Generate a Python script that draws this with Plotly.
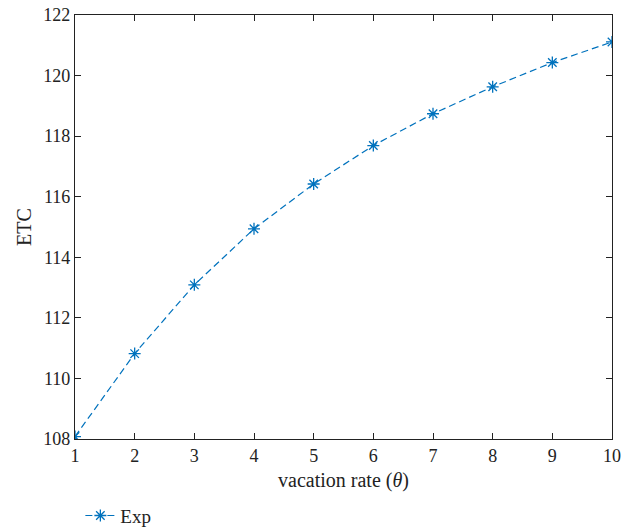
import plotly.graph_objects as go

# vacation rate (theta) and the expected total cost at each rate
theta = [1, 2, 3, 4, 5, 6, 7, 8, 9, 10]
etc = [108.08, 110.82, 113.09, 114.94, 116.42, 117.69, 118.74, 119.63, 120.43, 121.11]

x_ticks = [1, 2, 3, 4, 5, 6, 7, 8, 9, 10]
y_ticks = [108, 110, 112, 114, 116, 118, 120, 122]

blue = "#0072BD"
font_family = "Liberation Serif, DejaVu Serif, serif"
txt = "#222"

fig = go.Figure()
fig.add_trace(go.Scatter(
    x=theta, y=etc, name="Exp", mode="lines+markers",
    line=dict(color=blue, width=1.2, dash="7px,4px"),
    marker=dict(symbol="asterisk-open", size=10, color=blue,
                line=dict(color=blue, width=1.3)),
))

axis_common = dict(
    showline=True, linecolor=txt, linewidth=1.2, mirror="ticks",
    ticks="inside", ticklen=6, tickcolor=txt, tickwidth=1.2,
    showgrid=False, zeroline=False,
    tickfont=dict(family=font_family, size=18, color=txt),
)

fig.update_xaxes(
    range=[1, 10], tickvals=x_ticks,
    title=dict(text="vacation rate (<i>θ</i>)", standoff=8,
               font=dict(family=font_family, size=20, color=txt)),
    **axis_common,
)
fig.update_yaxes(
    range=[108, 122], tickvals=y_ticks,
    title=dict(text="ETC", standoff=6,
               font=dict(family=font_family, size=20, color=txt)),
    **axis_common,
)

fig.update_layout(
    width=622, height=531,
    margin=dict(l=75, r=10, t=15, b=92, autoexpand=False),
    paper_bgcolor="white", plot_bgcolor="white",
    showlegend=True,
    legend=dict(x=0.01, y=-0.136, xanchor="left", yanchor="top",
                xref="paper", yref="paper", orientation="h",
                font=dict(family=font_family, size=19, color=txt),
                bgcolor="rgba(0,0,0,0)"),
)

fig.write_html("out.html")
